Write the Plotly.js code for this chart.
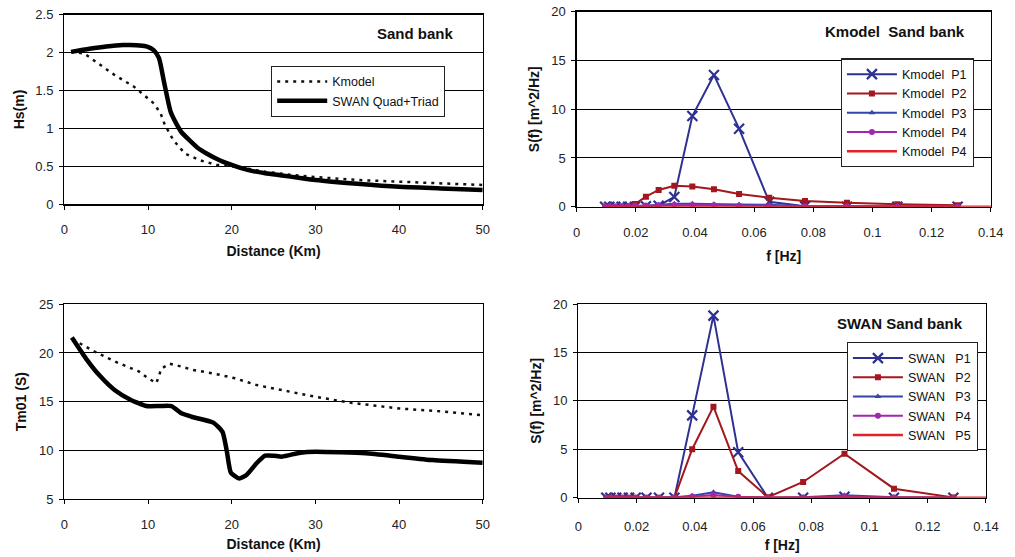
<!DOCTYPE html>
<html>
<head>
<meta charset="utf-8">
<script src="https://cdn.plot.ly/plotly-3.0.1.min.js"></script>
<style>
  html, body { margin: 0; padding: 0; background: #fff; }
  #chart { width: 1015px; height: 557px; }
</style>
</head>
<body>
<div id="chart"></div>
<script>
// ---- Significant wave height along the transect ----
const distHsSwan = [0.8, 3, 5, 7, 7.9, 9, 9.9, 10.7, 11.3, 11.9, 12.7, 13.3, 14, 15, 16, 17, 18, 19, 20, 22, 24, 26, 28, 30, 35, 40, 45, 50];
const hsSwan     = [2.01, 2.05, 2.08, 2.10, 2.10, 2.095, 2.08, 2.03, 1.93, 1.62, 1.22, 1.08, 0.95, 0.84, 0.74, 0.67, 0.61, 0.56, 0.52, 0.45, 0.41, 0.38, 0.35, 0.32, 0.27, 0.23, 0.21, 0.19];
const distHsK    = [0.8, 2.35, 3.75, 5.94, 8.33, 9.5, 10.7, 11.5, 12.0, 13.0, 14.4, 16.2, 18.2, 20.2, 24, 27, 30, 35, 40, 45, 50];
const hsK        = [2.01, 1.99, 1.88, 1.71, 1.55, 1.44, 1.33, 1.20, 1.05, 0.85, 0.67, 0.58, 0.52, 0.50, 0.43, 0.39, 0.36, 0.32, 0.30, 0.28, 0.255];

// ---- Mean period Tm01 along the transect ----
const distTmSwan = [0.9, 2.7, 4.3, 6.0, 7.9, 9.8, 11.4, 12.8, 14.0, 15.2, 17.8, 18.9, 19.4, 19.9, 20.9, 21.8, 23.0, 24.0, 25.0, 26.0, 28.2, 30, 36, 40, 44, 50];
const tmSwan     = [21.6, 19.3, 17.6, 16.2, 15.2, 14.55, 14.55, 14.55, 13.8, 13.45, 12.85, 11.9, 10.0, 7.7, 7.1, 7.5, 8.7, 9.45, 9.45, 9.35, 9.76, 9.86, 9.7, 9.35, 9.0, 8.73];
const distTmK    = [1.0, 3.7, 6.1, 8.9, 10.0, 11.0, 11.6, 12.6, 14.0, 15.4, 17.8, 20.4, 23.0, 26.5, 30, 34.1, 40, 45, 50];
const tmK        = [21.4, 20.1, 19.1, 18.1, 17.4, 16.9, 18.4, 18.9, 18.6, 18.25, 17.9, 17.4, 16.7, 16.1, 15.5, 14.9, 14.3, 14.0, 13.6];

// ---- Spectral frequencies ----
const freq    = [0.0096, 0.0110, 0.0130, 0.0152, 0.0174, 0.0197, 0.0234, 0.0277, 0.0330, 0.0391, 0.0464, 0.0549, 0.0651, 0.0772, 0.0914, 0.1084, 0.1288];
const freqRed = [0.0096, 0.0110, 0.0130, 0.0152, 0.0174, 0.0197, 0.0234, 0.0277, 0.0330, 0.0391, 0.0464, 0.0549, 0.0651, 0.0772, 0.0914, 0.1084, 0.1288, 0.1420];

// Kmodel spectra at points P1..P4
const kP1  = [0, 0, 0, 0, 0, 0, 0.05, 0.1, 1.0, 9.3, 13.5, 8.0, 0.5, 0.05, 0, 0, 0];
const kP2  = [0, 0, 0, 0.02, 0.08, 0.28, 1.03, 1.72, 2.14, 2.07, 1.8, 1.31, 0.93, 0.59, 0.41, 0.24, 0.14];
const kP3  = [0, 0, 0, 0, 0.02, 0.05, 0.1, 0.2, 0.3, 0.3, 0.25, 0.22, 0.2, 0.05, 0.02, 0.02, 0.01];
const kP4  = [0.02, 0.02, 0.03, 0.04, 0.06, 0.1, 0.12, 0.14, 0.17, 0.17, 0.14, 0.1, 0.07, 0.05, 0.04, 0.03, 0.02];
const kP4b = [0, 0, 0, 0, 0, 0, 0, 0.01, 0.02, 0.02, 0.02, 0.02, 0.01, 0.01, 0, 0, 0, 0];

// SWAN spectra at points P1..P5
const sP1 = [0, 0, 0, 0, 0, 0, 0, 0, 0, 8.5, 18.8, 4.7, 0, 0, 0.1, 0, 0];
const sP2 = [0, 0, 0, 0, 0, 0, 0, 0, 0, 5.0, 9.4, 2.75, 0.05, 1.62, 4.54, 0.93, 0.03];
const sP3 = [0, 0, 0, 0, 0, 0, 0, 0, 0.05, 0.2, 0.55, 0.1, 0, 0.05, 0.25, 0.05, 0];
const sP4 = [0, 0, 0, 0, 0, 0, 0, 0, 0.02, 0.12, 0.28, 0.1, 0, 0.02, 0.12, 0.03, 0];
const sP5 = [0, 0, 0, 0, 0, 0, 0, 0, 0, 0, 0, 0, 0, 0, 0, 0, 0, 0];

const FONT = 'Arial, "Liberation Sans", sans-serif';
const NAVY = '#2E3192', DKRED = '#A3171F', BLUE3 = '#3345A8', MAGENTA = '#A126B0', RED = '#E2222A';

const lineK    = {color: '#111', width: 2.5, dash: '3px,5px'};
const lineSwan = {color: '#000', width: 4.5};

const traces = [
  // Hs panel
  {x: distHsK, y: hsK, name: 'Kmodel', mode: 'lines', line: lineK, xaxis: 'x', yaxis: 'y', legend: 'legend'},
  {x: distHsSwan, y: hsSwan, name: 'SWAN Quad+Triad', mode: 'lines', line: Object.assign({shape: 'spline', smoothing: 0.6}, lineSwan), xaxis: 'x', yaxis: 'y', legend: 'legend'},
  // Tm01 panel
  {x: distTmK, y: tmK, name: 'Kmodel', mode: 'lines', line: lineK, xaxis: 'x3', yaxis: 'y3', showlegend: false},
  {x: distTmSwan, y: tmSwan, name: 'SWAN Quad+Triad', mode: 'lines', line: Object.assign({shape: 'spline', smoothing: 0.5}, lineSwan), xaxis: 'x3', yaxis: 'y3', showlegend: false},
  // Kmodel spectra
  {x: freq, y: kP1, name: 'Kmodel  P1', mode: 'lines+markers', line: {color: NAVY, width: 2},
   marker: {symbol: 'x-thin', size: 10, line: {color: NAVY, width: 2.2}}, xaxis: 'x2', yaxis: 'y2', legend: 'legend2'},
  {x: freq, y: kP2, name: 'Kmodel  P2', mode: 'lines+markers', line: {color: DKRED, width: 2},
   marker: {symbol: 'square', size: 6, color: DKRED}, xaxis: 'x2', yaxis: 'y2', legend: 'legend2'},
  {x: freq, y: kP3, name: 'Kmodel  P3', mode: 'lines+markers', line: {color: BLUE3, width: 2},
   marker: {symbol: 'triangle-up', size: 6, color: BLUE3}, xaxis: 'x2', yaxis: 'y2', legend: 'legend2'},
  {x: freq, y: kP4, name: 'Kmodel  P4', mode: 'lines+markers', line: {color: MAGENTA, width: 2},
   marker: {symbol: 'circle', size: 6, color: MAGENTA}, xaxis: 'x2', yaxis: 'y2', legend: 'legend2'},
  {x: freqRed, y: kP4b, name: 'Kmodel  P4', mode: 'lines', line: {color: RED, width: 2.5},
   xaxis: 'x2', yaxis: 'y2', legend: 'legend2'},
  // SWAN spectra
  {x: freq, y: sP1, name: 'SWAN   P1', mode: 'lines+markers', line: {color: NAVY, width: 2},
   marker: {symbol: 'x-thin', size: 10, line: {color: NAVY, width: 2.2}}, xaxis: 'x4', yaxis: 'y4', legend: 'legend3'},
  {x: freq, y: sP2, name: 'SWAN   P2', mode: 'lines+markers', line: {color: DKRED, width: 2},
   marker: {symbol: 'square', size: 6, color: DKRED}, xaxis: 'x4', yaxis: 'y4', legend: 'legend3'},
  {x: freq, y: sP3, name: 'SWAN   P3', mode: 'lines+markers', line: {color: BLUE3, width: 2},
   marker: {symbol: 'triangle-up', size: 6, color: BLUE3}, xaxis: 'x4', yaxis: 'y4', legend: 'legend3'},
  {x: freq, y: sP4, name: 'SWAN   P4', mode: 'lines+markers', line: {color: MAGENTA, width: 2},
   marker: {symbol: 'circle', size: 6, color: MAGENTA}, xaxis: 'x4', yaxis: 'y4', legend: 'legend3'},
  {x: freqRed, y: sP5, name: 'SWAN   P5', mode: 'lines', line: {color: RED, width: 2.5},
   xaxis: 'x4', yaxis: 'y4', legend: 'legend3'}
];

const tickFont = {family: FONT, size: 13, color: '#222'};
const titleFont = {family: FONT, size: 14, color: '#111', weight: 'bold'};

function xAx(domain, range, dtick, anchor, title, labelGap, standoff) {
  return {domain, range, dtick, anchor, tick0: 0, showgrid: false, zeroline: false,
    showline: true, mirror: true, linecolor: '#000', linewidth: 1.3,
    ticks: 'outside', ticklen: 4, tickcolor: '#000', tickfont: tickFont,
    ticklabelstandoff: labelGap,
    title: {text: title, font: titleFont, standoff: standoff}, fixedrange: true};
}
function yAx(domain, range, dtick, anchor, title, standoff) {
  return {domain, range, dtick, anchor, tick0: 0, showgrid: true, gridcolor: '#000', gridwidth: 1,
    zeroline: false, showline: true, mirror: true, linecolor: '#000', linewidth: 1.3,
    ticks: 'outside', ticklen: 4, tickcolor: '#000', tickfont: tickFont, ticklabelstandoff: 3,
    title: {text: title, font: titleFont, standoff: standoff}, fixedrange: true};
}

const legendBase = {
  bgcolor: '#fff', bordercolor: '#222', borderwidth: 1.2,
  font: {family: FONT, size: 12.5, color: '#111'},
  xanchor: 'left', yanchor: 'top', tracegroupgap: 0, itemwidth: 50,
  itemclick: false, itemdoubleclick: false
};

const noteFont = {family: FONT, size: 15, color: '#111', weight: 'bold'};

const layout = {
  width: 1015, height: 557,
  margin: {l: 0, r: 0, t: 0, b: 0},
  paper_bgcolor: '#fff', plot_bgcolor: '#fff',
  font: {family: FONT, color: '#111'},
  xaxis:  xAx([0.0634, 0.4756], [0, 50], 10, 'y', 'Distance (Km)', 9, 10),
  yaxis:  yAx([0.6332, 0.9736], [0, 2.5], 0.5, 'x', 'Hs(m)', 7),
  xaxis2: xAx([0.5682, 0.9761], [0, 0.14], 0.02, 'y2', 'f [Hz]', 9, 12),
  yaxis2: yAx([0.6289, 0.9790], [0, 20], 5, 'x2', 'S(f) [m^2/Hz]', 8),
  xaxis3: xAx([0.0634, 0.4756], [0, 50], 10, 'y3', 'Distance (Km)', 9, 8),
  yaxis3: yAx([0.1041, 0.4537], [5, 25], 5, 'x3', 'Tm01 (S)', 9),
  xaxis4: xAx([0.5698, 0.9714], [0, 0.14], 0.02, 'y4', 'f [Hz]', 12, 7),
  yaxis4: yAx([0.1065, 0.4542], [0, 20], 5, 'x4', 'S(f) [m^2/Hz]', 8),
  legend:  Object.assign({}, legendBase, {x: 0.267, y: 0.882}),
  legend2: Object.assign({}, legendBase, {x: 0.8283, y: 0.8953}),
  legend3: Object.assign({}, legendBase, {x: 0.8342, y: 0.3855}),
  annotations: [
    {text: 'Sand bank', xref: 'paper', yref: 'paper', x: 415 / 1015, y: 1 - 33 / 557,
     xanchor: 'center', yanchor: 'middle', showarrow: false, font: noteFont},
    {text: 'Kmodel  Sand bank', xref: 'paper', yref: 'paper', x: 895 / 1015, y: 1 - 32 / 557,
     xanchor: 'center', yanchor: 'middle', showarrow: false, font: noteFont},
    {text: 'SWAN Sand bank', xref: 'paper', yref: 'paper', x: 900 / 1015, y: 1 - 323 / 557,
     xanchor: 'center', yanchor: 'middle', showarrow: false, font: noteFont}
  ],
  showlegend: true
};

Plotly.newPlot('chart', traces, layout, {staticPlot: true, displayModeBar: false});
</script>
</body>
</html>
